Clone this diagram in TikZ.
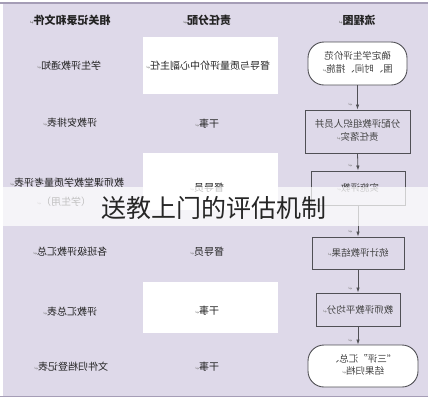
\documentclass[tikz,border=0pt]{standalone}
\usepackage{fontspec}
\usepackage{graphicx}
\usetikzlibrary{arrows.meta}
\newfontfamily\cjk{Noto Sans CJK SC}
\newfontfamily\djv{DejaVu Sans}
\definecolor{bg}{RGB}{222,217,233}
\definecolor{edgec}{RGB}{165,157,182}
\definecolor{txt}{RGB}{35,35,35}
\definecolor{boxc}{RGB}{80,80,85}
\newcommand{\pmark}{{\djv\fontsize{5}{5}\selectfont\color{gray}↵}}
\newcommand{\mr}[1]{\reflectbox{#1}}
\newcommand{\two}[2]{\reflectbox{\begin{tabular}{@{}c@{}}#1\\#2\end{tabular}}}
\tikzset{
  cell/.style={inner sep=0pt, text=txt, font=\cjk\fontsize{10}{12}\selectfont},
  hd/.style={inner sep=0pt, text=txt, font=\cjk\bfseries\fontsize{11}{13}\selectfont},
  flowbox/.style={draw=boxc, line width=0.9pt, inner sep=0pt, text=txt!85,
    font=\cjk\fontsize{9.5}{12.5}\selectfont},
  flowround/.style={flowbox, fill=white, rounded corners=16pt},
  conn/.style={draw=boxc, line width=0.8pt, -{Latex[length=5pt,width=3.5pt]}},
  tinymark/.style={inner sep=0pt}
}
\begin{document}
\begin{tikzpicture}[x=1pt,y=-1pt]
\useasboundingbox (0,0) rectangle (428,400);
\fill[white] (0,0) rectangle (428,400);
\fill[bg] (3,3) rectangle (428,396);
\draw[edgec, line width=1.2pt] (0,3) -- (428,3);
\draw[edgec, line width=1.2pt] (0,396.5) -- (428,396.5);
% white cells in middle column
\fill[white] (143,37) rectangle (278,94);
\fill[white] (143,153) rectangle (278,210);
\fill[white] (143,282) rectangle (278,333);
% headers
\node[hd] (h1) at (70,20) {\mr{相关记录和文件\pmark}};
\node[hd] (h2) at (207,20) {\mr{责任分配\pmark}};
\node[hd] (h3) at (357,20) {\mr{流程图\pmark}};
% left column
\node[cell] (l1) at (69,66) {\mr{学生评教通知\pmark}};
\node[cell] (l2) at (70,123) {\mr{评教安排表\pmark}};
\node[cell] (l3) at (67,183) {\mr{教师课堂教学质量考评表\pmark}};
\node[cell] (l3b) at (64,202) {\mr{（学生用）\pmark}};
\node[cell] (l4) at (70,252) {\mr{各班级评教汇总\pmark}};
\node[cell] (l5) at (70,312) {\mr{评教汇总表\pmark}};
\node[cell] (l6) at (71,367) {\mr{文件归档登记表\pmark}};
% middle column
\node[cell] (m1) at (208,66) {\mr{督导与质量评价中心副主任\pmark}};
\node[cell] (m2) at (207,124) {\mr{干事\pmark}};
\node[cell] (m3) at (207,188) {\mr{督导员\pmark}};
\node[cell] (m4) at (207,252) {\mr{督导员\pmark}};
\node[cell] (m5) at (207,311) {\mr{干事\pmark}};
\node[cell] (m6) at (207,367) {\mr{干事\pmark}};
% flowchart
\node[flowround, minimum width=99pt, minimum height=43pt] (b1) at (357.5,63.5)
  {\two{确定学生评价范}{围、时间、措施\pmark}};
\node[flowbox, minimum width=105pt, minimum height=43pt] (b2) at (357.5,131.5)
  {\two{分配评教组织人员并}{责任落实\pmark}};
\node[flowbox, minimum width=94pt, minimum height=34pt] (b3) at (358,188)
  {\mr{实施评教\pmark}};
\node[flowbox, minimum width=92pt, minimum height=32pt] (b4) at (358,253)
  {\mr{统计评教结果\pmark}};
\node[flowbox, minimum width=84pt, minimum height=33pt] (b5) at (358,309.5)
  {\mr{教师评教平均分\pmark}};
\node[flowround, minimum width=110pt, minimum height=42pt] (b6) at (363,366)
  {\two{“三评”汇总、}{结果归档\pmark}};
\draw[conn] (b1.south) -- (b2.north);
\draw[conn] (b2.south) -- (b3.north);
\draw[conn] (b3.south) -- (b4.north);
\draw[conn] (b4.south) -- (b5.north);
\draw[conn] (b5.south) -- (b5.south |- b6.north);
\node[tinymark] (k1) at (350,105) {\mr{\pmark}};
\node[tinymark] (k2) at (350,166) {\mr{\pmark}};
\node[tinymark] (k3) at (350,232) {\mr{\pmark}};
\node[tinymark] (k4) at (350,289) {\mr{\pmark}};
\node[tinymark] (k5) at (350,341) {\mr{\pmark}};
% title band
\fill[white, opacity=0.72] (0,187) rectangle (428,226);
\node[inner sep=0pt, text=black!85, font=\cjk\fontsize{25}{28}\selectfont] (title) at (214,208) {送教上门的评估机制};
\end{tikzpicture}
\end{document}
